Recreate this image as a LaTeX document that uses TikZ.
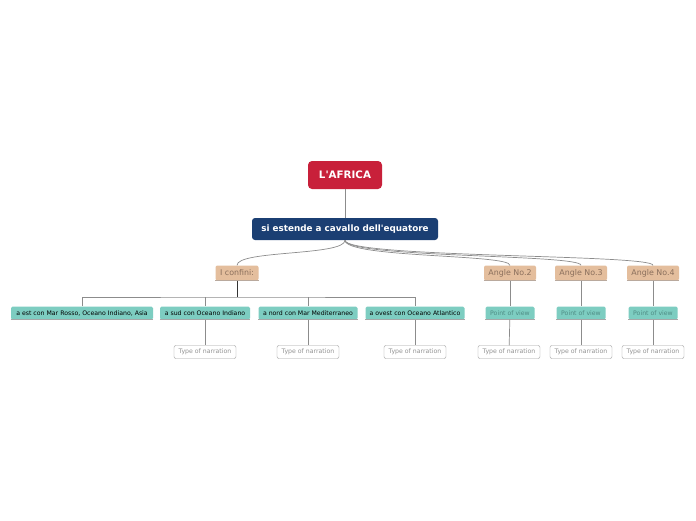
\documentclass[tikz,border=0pt]{standalone}
\usepackage{fontspec}
\setmainfont{DejaVu Sans}[Ligatures=TeXOff]
\usetikzlibrary{positioning}

\definecolor{rootred}{HTML}{C8203A}
\definecolor{mainblue}{HTML}{1B3F73}
\definecolor{tanfill}{HTML}{E4BE9D}
\definecolor{tantext}{HTML}{8A6F5C}
\definecolor{tealfill}{HTML}{7DCDC1}
\definecolor{tealtext}{HTML}{4F8C84}
\definecolor{linkgray}{HTML}{8C8C8C}

\begin{document}
\begin{tikzpicture}[
    x=1pt, y=-1pt,
    rootbox/.style={fill=rootred, rounded corners=4pt, text=white, font=\bfseries\fontsize{10.3}{12}\selectfont, minimum width=74pt, minimum height=28pt, inner sep=0pt},
    mainbox/.style={fill=mainblue, rounded corners=3pt, text=white, font=\bfseries\fontsize{8.8}{10}\selectfont, minimum width=186pt, minimum height=22pt, inner sep=0pt},
    tanbox/.style={fill=tanfill, rounded corners=2pt, text=tantext, font=\fontsize{7.9}{9}\selectfont, minimum height=15pt, inner sep=0pt},
    tealbox/.style={fill=tealfill, rounded corners=1.5pt, font=\fontsize{6.2}{7}\selectfont, minimum height=13pt, inner sep=0pt},
    narrbox/.style={draw=gray!75, fill=white, rounded corners=2pt, text=gray!85, font=\fontsize{6.2}{7}\selectfont, minimum width=62pt, minimum height=13pt, inner sep=0pt},
    link/.style={draw=linkgray, line width=0.7pt},
    underl/.style={draw=gray!70, line width=0.8pt}
]
    \useasboundingbox [fill=white] (0,0) rectangle (696,520);

    % Central nodes
    \node [rootbox] (root) at (345,175) {L'AFRICA};
    \node [mainbox] (main) at (345,229) {si estende a cavallo dell'equatore};

    % First level
    \node [tanbox, minimum width=43pt] (confini) at (237,273) {I confini:};
    \foreach \i/\x in {2/510, 3/581, 4/653} {
        \node [tanbox, minimum width=52pt] (angle\i) at (\x,273) {Angle No.\i};
    }

    % Borders
    \foreach \name/\x/\w/\txt in {est/82/142/{a est con Mar Rosso, Oceano Indiano, Asia},
                                  sud/205/90/{a sud con Oceano Indiano},
                                  nord/308/99/{a nord con Mar Mediterraneo},
                                  ovest/415/99/{a ovest con Oceano Atlantico}} {
        \node [tealbox, minimum width=\w pt] (\name) at (\x,313) {\txt};
    }

    % Points of view
    \foreach \i/\x in {2/510, 3/581, 4/653} {
        \node [tealbox, text=tealtext, minimum width=49pt] (pov\i) at (\x,313) {Point of view};
    }

    % Type of narration
    \foreach \name/\x in {sud/205, nord/308, ovest/415} {
        \node [narrbox] (narr\name) at (\x,352) {Type of narration};
    }
    \foreach \i/\x in {2/509, 3/581, 4/653} {
        \node [narrbox] (narr\i) at (\x,352) {Type of narration};
    }

    % Underlines
    \foreach \n in {confini, angle2, angle3, angle4} {
        \draw [underl, draw=tantext!60] (\n.south west) -- (\n.south east);
    }
    \foreach \n in {est, sud, nord, ovest, pov2, pov3, pov4} {
        \draw [underl] (\n.south west) -- (\n.south east);
    }

    % Connectors
    \draw [link] (root) -- (main);
    \draw [link] (main.south) .. controls (345,256) and (237,250) .. (confini.north);
    \foreach \i in {2, 3, 4} {
        \draw [link] (main.south) .. controls (345,258) and (angle\i.north |- 0,254) .. (angle\i.north);
        \draw [link] (angle\i) -- (pov\i);
        \draw [link] (pov\i) -- (narr\i);
    }
    \draw [link, draw=gray!40!black] (confini.south) -- (237,297);
    \draw [link] (est.north) |- (237,297) -| (ovest.north);
    \foreach \n in {sud, nord} {
        \draw [link] (\n.north |- 0,297) -- (\n.north);
    }
    \foreach \n in {sud, nord, ovest} {
        \draw [link] (\n) -- (narr\n);
    }
\end{tikzpicture}
\end{document}
